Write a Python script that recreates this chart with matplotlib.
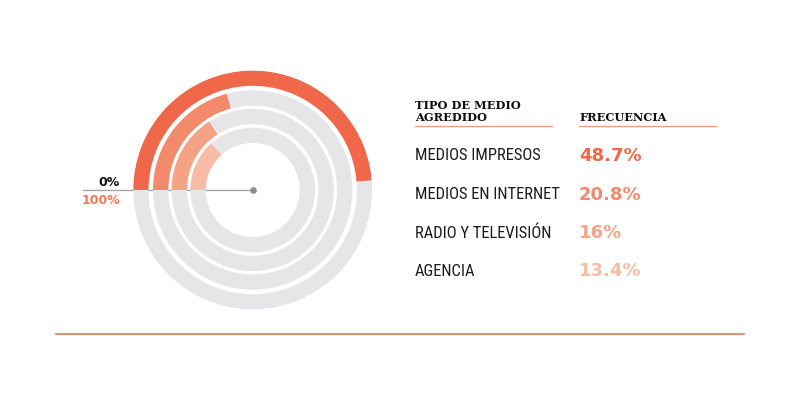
import numpy as np
import matplotlib
matplotlib.use("Agg")
import matplotlib.pyplot as plt
from matplotlib import font_manager

# data
categories = ["MEDIOS IMPRESOS", "MEDIOS EN INTERNET", "RADIO Y TELEVISIÓN", "AGENCIA"]
values = [48.7, 20.8, 16, 13.4]
value_labels = ["48.7%", "20.8%", "16%", "13.4%"]
colors = ["#F0674A", "#F38A6C", "#F5A285", "#F8BCA6"]
gray = "#E6E6E8"

# pick a narrow face if one is installed
installed = set(f.name for f in font_manager.fontManager.ttflist)
label_font = "Roboto"
for cand in ["Roboto Condensed", "Open Sans Condensed", "Liberation Sans Narrow",
             "DejaVu Sans Condensed", "Roboto"]:
    if cand in installed:
        label_font = cand
        break

W, H = 800, 402
fig = plt.figure(figsize=(W / 100, H / 100), dpi=100)
fig.patch.set_facecolor("white")

ax0 = fig.add_axes([0, 0, 1, 1])
ax0.set_xlim(0, W)
ax0.set_ylim(H, 0)
ax0.axis("off")

cx, cy, R = 252.7, 191, 119.5
ring_w = 15.3
ring_bottoms = [104.2, 84.4, 65.8, 47]

pax = fig.add_axes([(cx - R) / W, (H - cy - R) / H, 2 * R / W, 2 * R / H], projection="polar")
pax.set_theta_offset(np.pi)
pax.set_theta_direction(-1)
pax.set_ylim(0, R)
pax.patch.set_alpha(0)
pax.axis("off")
for b, v, c in zip(ring_bottoms, values, colors):
    pax.bar(0, ring_w, width=2 * np.pi, bottom=b, align="edge", color=gray, linewidth=0)
    pax.bar(0, ring_w, width=v / 100 * 2 * np.pi, bottom=b, align="edge", color=c, linewidth=0)

ax0.plot([83, cx], [cy, cy], color="#A0A0A0", lw=0.9, zorder=1)
ax0.scatter([cx], [cy], s=14, color="#8C8C8C", zorder=2)
ax0.text(120, 183, "0%", ha="right", va="center", fontsize=9, fontweight="heavy",
         family="DejaVu Sans", color="#111111")
ax0.text(120, 200.5, "100%", ha="right", va="center", fontsize=9, fontweight="heavy",
         family="DejaVu Sans", color="#F0795A")

hdr = dict(fontsize=8.2, fontweight="bold", family="DejaVu Serif", color="#111111")
ax0.text(415, 123, "TIPO DE MEDIO\nAGREDIDO", ha="left", va="bottom", linespacing=1.15, **hdr)
ax0.text(579, 123, "FRECUENCIA", ha="left", va="bottom", **hdr)
ax0.plot([415, 552], [127, 127], color="#F29A85", lw=0.9)
ax0.plot([579, 716], [127, 127], color="#F29A85", lw=0.9)

# fit the label size so the first row roughly matches the reference width
renderer = fig.canvas.get_renderer()
probe = ax0.text(0, 0, categories[0], fontsize=13, family=label_font)
wpx = probe.get_window_extent(renderer).width
probe.remove()
label_size = min(13.5, 13 * 125 / wpx)

row_y = [156, 195, 233, 271.5]
for y, cat, lab, c in zip(row_y, categories, value_labels, colors):
    ax0.text(415, y, cat, ha="left", va="center", fontsize=label_size,
             family=label_font, color="#1A1A1A")
    ax0.text(579, y, lab, ha="left", va="center", fontsize=13, fontweight="heavy",
             family="DejaVu Sans", color=c)

ax0.plot([56, 744], [335, 335], color="#E8765A", lw=1.2)

fig.savefig("out.png", dpi=100, facecolor="white")
